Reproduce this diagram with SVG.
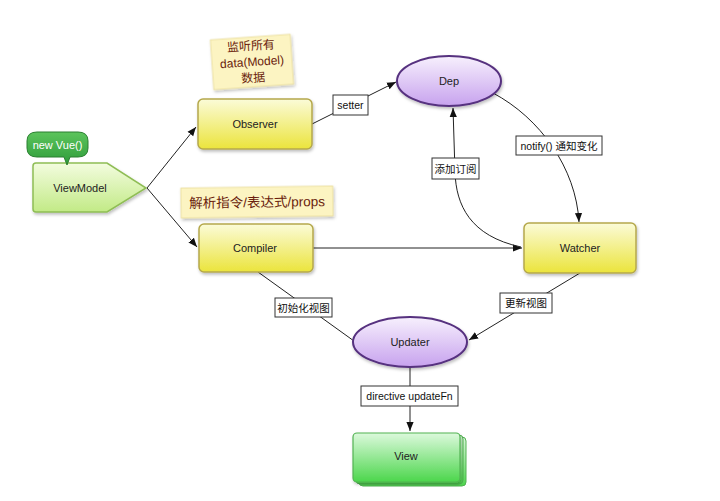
<svg xmlns="http://www.w3.org/2000/svg" width="720" height="501" viewBox="0 0 720 501">
<defs>
  <linearGradient id="gYellow" x1="0" y1="0" x2="0" y2="1">
    <stop offset="0" stop-color="#fbfbd8"/>
    <stop offset="1" stop-color="#ebe43c"/>
  </linearGradient>
  <linearGradient id="gPurple" x1="0" y1="0" x2="0" y2="1">
    <stop offset="0" stop-color="#f7f0fd"/>
    <stop offset="1" stop-color="#c7a2ee"/>
  </linearGradient>
  <linearGradient id="gLime" x1="0" y1="0" x2="0" y2="1">
    <stop offset="0" stop-color="#f3fcdf"/>
    <stop offset="1" stop-color="#c2ea86"/>
  </linearGradient>
  <linearGradient id="gGreen" x1="0" y1="0" x2="0" y2="1">
    <stop offset="0" stop-color="#dcf9dc"/>
    <stop offset="1" stop-color="#4cd64c"/>
  </linearGradient>
  <linearGradient id="gBubble" x1="0" y1="0" x2="0" y2="1">
    <stop offset="0" stop-color="#5cc45c"/>
    <stop offset="1" stop-color="#2e9b3a"/>
  </linearGradient>
  <filter id="sh" x="-20%" y="-20%" width="140%" height="150%">
    <feDropShadow dx="1" dy="2" stdDeviation="1.5" flood-color="#000" flood-opacity="0.25"/>
  </filter>
  <marker id="arr" viewBox="0 0 10 10" refX="10" refY="5" markerWidth="9" markerHeight="9" markerUnits="userSpaceOnUse" orient="auto">
    <path d="M0,1 L10,5 L0,9 z" fill="#111"/>
  </marker>
  <style>
    .box{fill:url(#gYellow);stroke:#b5a84c;stroke-width:1.5;}
    .ell{fill:url(#gPurple);stroke:#56307f;stroke-width:2;}
    .lbl{font-family:"Liberation Sans","Noto Sans CJK SC",sans-serif;font-size:11px;fill:#222;text-anchor:middle;}
    .tag{fill:#fff;stroke:#333;stroke-width:1;}
    .tagt{font-family:"Liberation Sans","Noto Sans CJK SC",sans-serif;font-size:10.5px;fill:#111;text-anchor:middle;}
    .note{fill:#fcf4c2;stroke:#e8dc9a;stroke-width:0.8;}
    .notet{font-family:"Liberation Sans","Noto Sans CJK SC",sans-serif;font-size:12px;fill:#6a1c0c;text-anchor:middle;}
    .ln{fill:none;stroke:#222;stroke-width:1;}
  </style>
</defs>
<rect width="720" height="501" fill="#fff"/>

<g id="connectors">
  <path class="ln" d="M147,188 L196,127" marker-end="url(#arr)"/>
  <path class="ln" d="M147,188 L197,247" marker-end="url(#arr)"/>
  <path class="ln" d="M312,124 L396,82" marker-end="url(#arr)"/>
  <path class="ln" d="M313,248 L522,248" marker-end="url(#arr)"/>
  <path class="ln" d="M493,93 C540,118 576,168 579,222" marker-end="url(#arr)"/>
  <path class="ln" d="M521,247 C470,236 456,205 455,172 L453,108" marker-end="url(#arr)"/>
  <path class="ln" d="M258,272 L354,341"/>
  <path class="ln" d="M580,273 L469,340" marker-end="url(#arr)"/>
  <path class="ln" d="M410,367 L410,431" marker-end="url(#arr)"/>
  <g id="label-setter">
    <rect class="tag" x="333" y="95" width="35" height="20"/>
    <text class="tagt" x="350.5" y="109">setter</text>
  </g>
  <g id="label-notify">
    <rect class="tag" x="516" y="136" width="86" height="19"/>
    <text class="tagt" x="559" y="149.5">notify() 通知变化</text>
  </g>
  <g id="label-subscribe">
    <rect class="tag" x="432" y="158" width="47" height="21"/>
    <text class="tagt" x="455.5" y="172.5">添加订阅</text>
  </g>
  <g id="label-init">
    <rect class="tag" x="275" y="298" width="57" height="19"/>
    <text class="tagt" x="303.5" y="311.5">初始化视图</text>
  </g>
  <g id="label-update">
    <rect class="tag" x="500" y="293" width="52" height="20"/>
    <text class="tagt" x="526" y="307">更新视图</text>
  </g>
  <g id="label-directive">
    <rect class="tag" x="361" y="386" width="97" height="20"/>
    <text class="tagt" x="409.5" y="400">directive updateFn</text>
  </g>
</g>

<g id="note-observer" transform="rotate(-4 252 62)">
  <rect class="note" x="212" y="37" width="80" height="50" filter="url(#sh)"/>
  <text class="notet" x="252" y="50">监听所有</text>
  <text class="notet" x="252" y="66">data(Model)</text>
  <text class="notet" x="252" y="82">数据</text>
</g>

<g id="note-compiler" transform="rotate(-0.8 257 202)">
  <rect class="note" x="181" y="187" width="152" height="30" filter="url(#sh)"/>
  <text class="notet" x="257" y="207" style="font-size:13.5px">解析指令/表达式/props</text>
</g>

<g id="node-viewmodel">
  <path d="M33,166 Q33,163 36,163 L107,163 L146,188 L107,212 L36,212 Q33,212 33,209 Z" fill="url(#gLime)" stroke="#8fbd55" stroke-width="1.5" filter="url(#sh)"/>
  <text class="lbl" x="80" y="192">ViewModel</text>
</g>

<g id="node-newvue">
  <path d="M37,132 L78,132 Q88,132 88,141 L88,148 Q88,157 78,157 L70,157 L67,165 L64,157 L37,157 Q27,157 27,148 L27,141 Q27,132 37,132 Z" fill="url(#gBubble)" stroke="#2a7f30" stroke-width="1"/>
  <text class="lbl" x="57.5" y="149" style="fill:#fff">new Vue()</text>
</g>

<g id="node-observer">
  <rect class="box" x="198" y="99" width="114" height="50" rx="5" filter="url(#sh)"/>
  <text class="lbl" x="255" y="128">Observer</text>
</g>

<g id="node-compiler">
  <rect class="box" x="199" y="224" width="114" height="48" rx="5" filter="url(#sh)"/>
  <text class="lbl" x="255" y="252">Compiler</text>
</g>

<g id="node-dep">
  <ellipse class="ell" cx="449" cy="81" rx="52" ry="25" filter="url(#sh)"/>
  <text class="lbl" x="449" y="85">Dep</text>
</g>

<g id="node-watcher">
  <rect class="box" x="524" y="223" width="112" height="50" rx="5" filter="url(#sh)"/>
  <text class="lbl" x="580" y="252">Watcher</text>
</g>

<g id="node-updater">
  <ellipse class="ell" cx="410" cy="342" rx="57" ry="25" filter="url(#sh)"/>
  <text class="lbl" x="410" y="346">Updater</text>
</g>

<g id="node-view">
  <rect x="359" y="437" width="107" height="49" rx="4" fill="url(#gGreen)" stroke="#52b352" stroke-width="1"/>
  <rect x="356" y="435" width="107" height="49" rx="4" fill="url(#gGreen)" stroke="#52b352" stroke-width="1"/>
  <rect x="353" y="433" width="107" height="49" rx="4" fill="url(#gGreen)" stroke="#52b352" stroke-width="1.2" filter="url(#sh)"/>
  <text class="lbl" x="406" y="460">View</text>
</g>
</svg>
